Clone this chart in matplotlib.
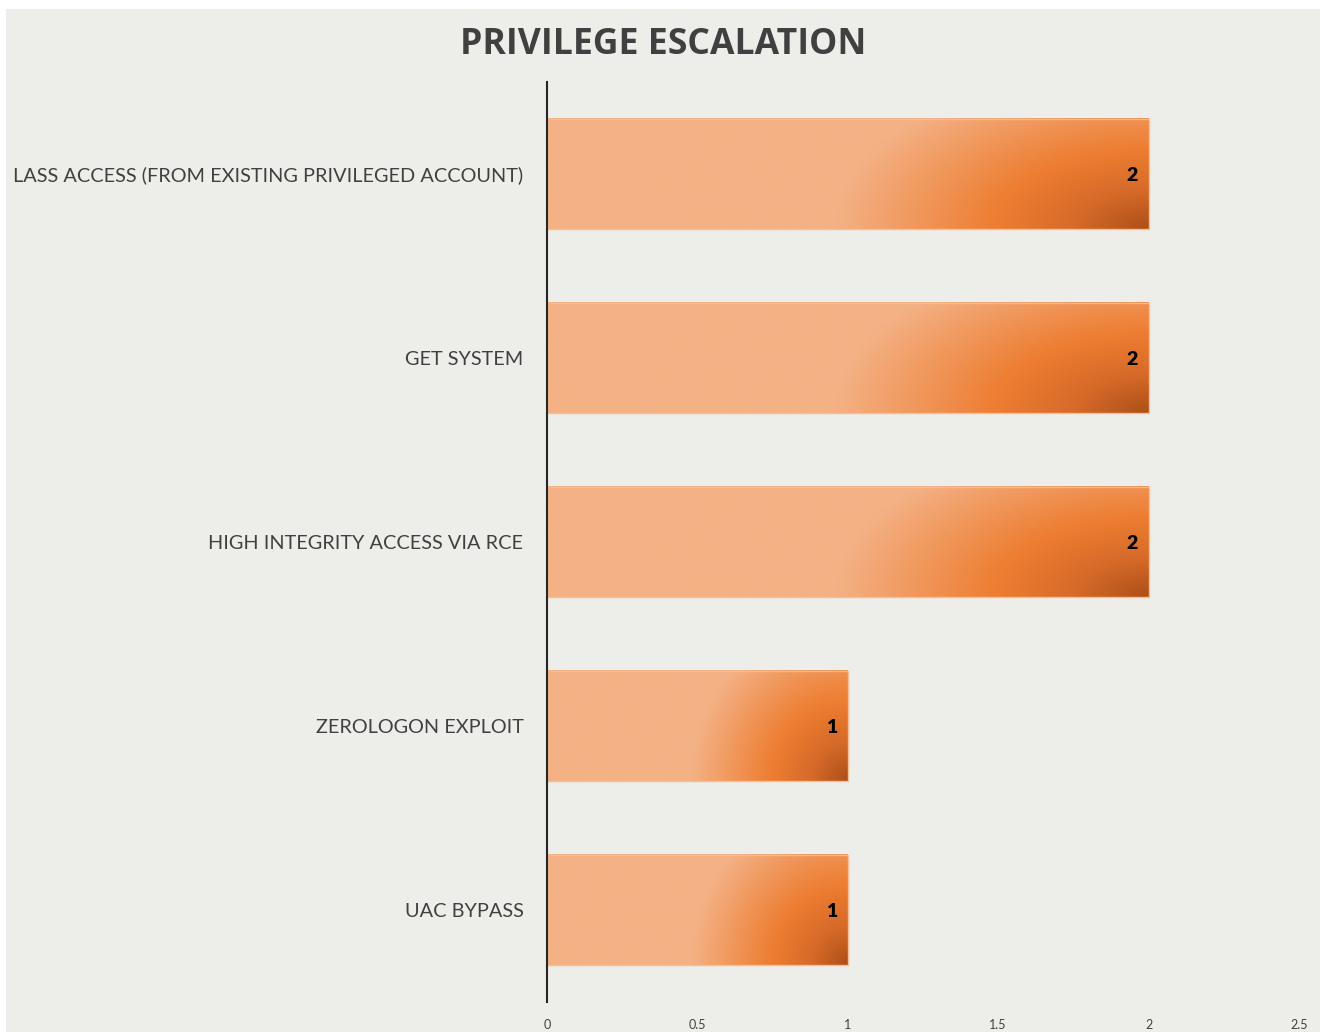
import matplotlib.pyplot as plt
import numpy as np
from matplotlib.colors import LinearSegmentedColormap
from matplotlib.patches import Rectangle

categories = [
    "LASS ACCESS (FROM EXISTING PRIVILEGED ACCOUNT)",
    "GET SYSTEM",
    "HIGH INTEGRITY ACCESS VIA RCE",
    "ZEROLOGON EXPLOIT",
    "UAC BYPASS",
]
counts = [2, 2, 2, 1, 1]
xticks = [0, 0.5, 1, 1.5, 2, 2.5]
xticklabels = ["0", "0.5", "1", "1.5", "2", "2.5"]

bg = "#EDEDEA"
grad = LinearSegmentedColormap.from_list(
    "bar", [(0.0, "#AE5018"), (0.12, "#D66A29"), (0.25, "#ED7D31"),
            (0.52, "#F4B185"), (1.0, "#F4B185")])

fig = plt.figure(figsize=(13.2, 10.32), dpi=100)
fig.patch.set_facecolor("white")
fig.patches.append(Rectangle((6 / 1320, 0), 1, 1 - 9 / 1032, transform=fig.transFigure,
                             facecolor=bg, edgecolor="none", zorder=-10))

ax = fig.add_axes([547 / 1320, 1 - 1002 / 1032, 752 / 1320, 920 / 1032])
ax.set_facecolor("none")
ax.set_xlim(0, 2.5)
ax.set_ylim(len(categories) - 0.5, -0.5)

# gradient fill: path gradient towards the bottom-right corner of each bar
# rows: v = 0 at the bar's bottom edge, 1 at its top edge
u = np.linspace(0, 1, 300)
v = np.linspace(0, 1, 60)
U, V = np.meshgrid(u, v)
T = np.sqrt((1 - U) ** 2 + (0.35 * V) ** 2)

h = 0.6
for i, (cat, val) in enumerate(zip(categories, counts)):
    top, bot = i - h / 2, i + h / 2
    # y axis is inverted: extent bottom=bot (lower on screen), top=top
    ax.imshow(T, cmap=grad, vmin=0, vmax=1, aspect="auto", origin="lower",
              extent=(0, val, bot, top), interpolation="bilinear", zorder=2)
    ax.add_patch(Rectangle((0, top), val, h, facecolor="none",
                           edgecolor="#F6BC92", linewidth=1, zorder=3))
    ax.text(val - 0.035, i + 0.01, str(val), ha="right", va="center",
            fontsize=14, fontweight="heavy", color="black",
            family="Lato", zorder=4)

ax.set_xlim(0, 2.5)
ax.set_ylim(len(categories) - 0.5, -0.5)
ax.set_yticks(range(len(categories)))
ax.set_yticklabels(categories, fontsize=14.3, color="#404040", family="Lato")
ax.set_xticks(xticks)
ax.set_xticklabels(xticklabels, fontsize=9, color="#404040", family="Lato")
ax.tick_params(axis="both", length=0)
ax.tick_params(axis="y", pad=17)
ax.tick_params(axis="x", pad=12)
for s in ["top", "right", "bottom"]:
    ax.spines[s].set_visible(False)
ax.spines["left"].set_color("#262626")
ax.spines["left"].set_linewidth(1.5)
ax.spines["left"].set_zorder(5)

fig.text(663 / 1320, 1 - 45 / 1032, "PRIVILEGE ESCALATION", ha="center", va="center",
         fontsize=25.6, fontweight="bold", color="#404040", family="Open Sans")

fig.savefig("out.png", dpi=100, facecolor=fig.get_facecolor())
